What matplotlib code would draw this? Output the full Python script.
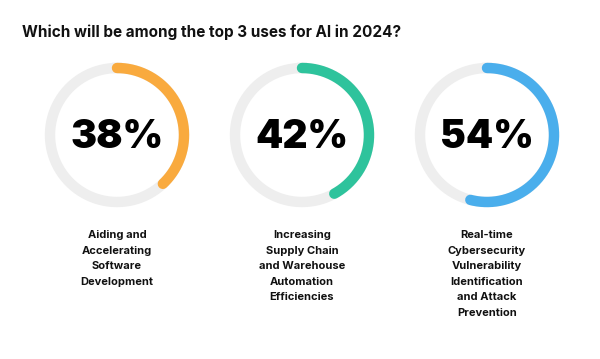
import numpy as np
import matplotlib.pyplot as plt

plt.rcParams['font.family'] = ['Inter', 'DejaVu Sans']

title = "Which will be among the top 3 uses for AI in 2024?"
values = [38, 42, 54]
labels = [
    "Aiding and\nAccelerating\nSoftware\nDevelopment",
    "Increasing\nSupply Chain\nand Warehouse\nAutomation\nEfficiencies",
    "Real-time\nCybersecurity\nVulnerability\nIdentification\nand Attack\nPrevention",
]
colors = ["#F9AA3E", "#2EC39C", "#4AAEEC"]

W, H = 600, 359
fig = plt.figure(figsize=(6, 3.59), dpi=100)
ax = fig.add_axes([0, 0, 1, 1])
ax.set_xlim(0, W)
ax.set_ylim(H, 0)
ax.set_aspect('equal')
ax.axis('off')

centers_x = [117, 302, 487]
cy = 135
r = 67
lw = 7.5  # ring thickness in points

fig.text(22 / W, 1 - 32 / H, title, fontsize=11, fontweight='bold',
         ha='left', va='center', color='#111111')

for cx, v, lab, col in zip(centers_x, values, labels, colors):
    t = np.linspace(0, 2 * np.pi, 400)
    ax.plot(cx + r * np.sin(t), cy - r * np.cos(t), color='#EEEEEE', lw=lw)
    t = np.linspace(0, 2 * np.pi * v / 100, 300)
    ax.plot(cx + r * np.sin(t), cy - r * np.cos(t), color=col, lw=lw,
            solid_capstyle='round')
    ax.text(cx, cy + 2, f"{v}%", fontsize=28, fontweight='black',
            ha='center', va='center', color='black')
    ax.text(cx, 230, lab, fontsize=8, fontweight='bold', ha='center',
            va='top', color='#111111', linespacing=1.7)

fig.savefig("out.png", dpi=100)
